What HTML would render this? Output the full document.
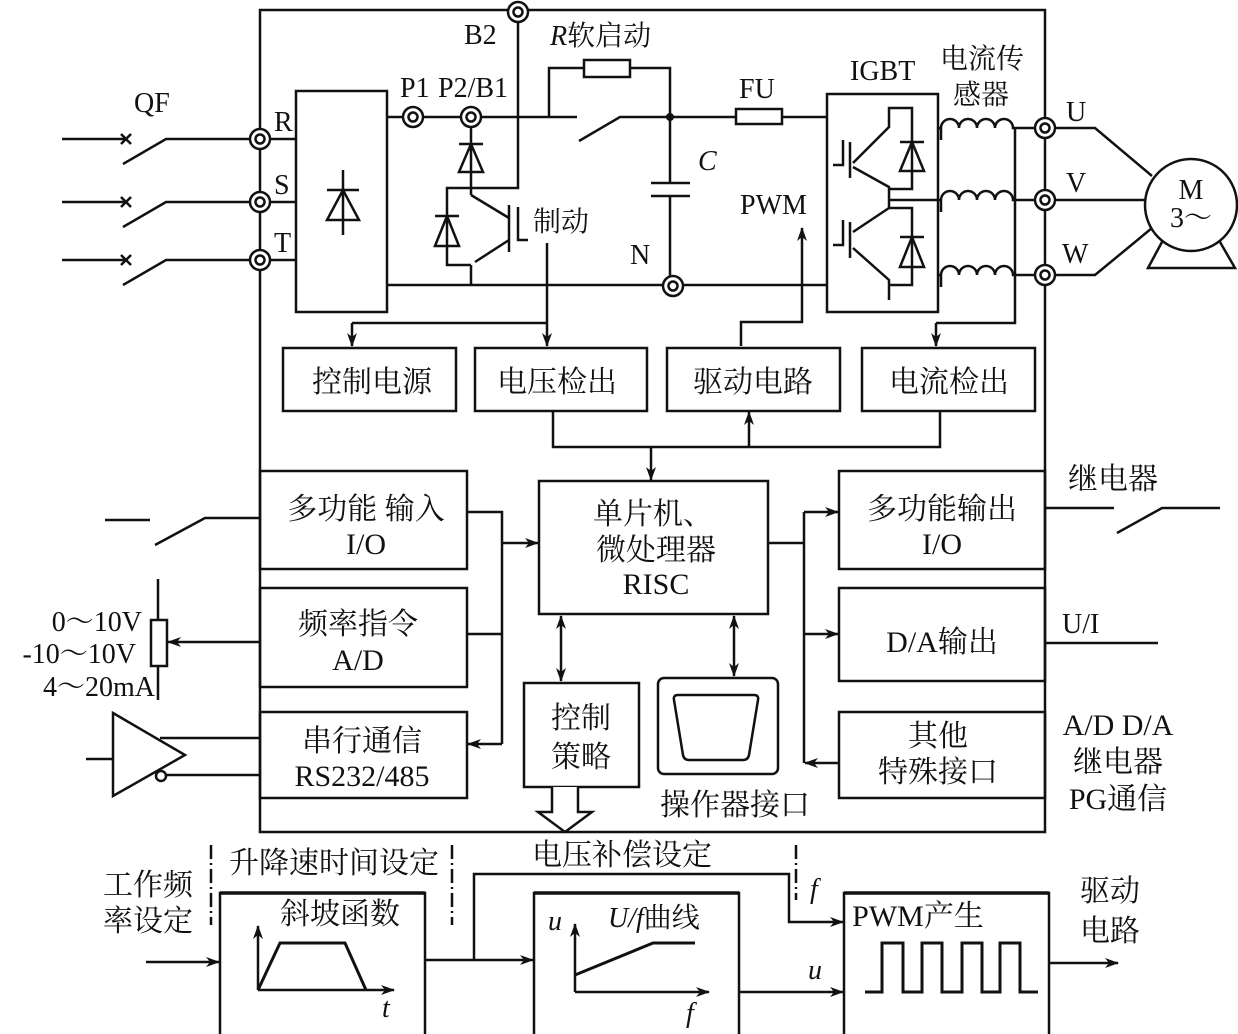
<!DOCTYPE html>
<html><head><meta charset="utf-8"><style>
html,body{margin:0;padding:0;background:#fff}
svg{display:block}
text{font-family:"Liberation Serif","Noto Serif CJK SC","Noto Sans CJK SC",serif;fill:#111}
.c{font-size:30px}
.l{font-size:28px}
</style></head><body>
<svg width="1238" height="1034" viewBox="0 0 1238 1034" xmlns="http://www.w3.org/2000/svg">
<defs>
<marker id="a" markerWidth="14" markerHeight="10" refX="13" refY="5" orient="auto" markerUnits="userSpaceOnUse"><path d="M0,0 L14,5 L0,10 L4,5 Z" fill="#111"/></marker>
<marker id="s" markerWidth="14" markerHeight="10" refX="1" refY="5" orient="auto" markerUnits="userSpaceOnUse"><path d="M14,0 L0,5 L14,10 L10,5 Z" fill="#111"/></marker>
</defs>
<g fill="none" stroke="#111" stroke-width="2.5">
<rect x="260" y="10" width="785" height="822"/>
<path d="M62,139 H126 M121,134 l10,10 M131,134 l-10,10 M123,164 L166,139 H250"/>
<path d="M62,202 H126 M121,197 l10,10 M131,197 l-10,10 M123,227 L166,202 H250"/>
<path d="M62,260 H126 M121,255 l10,10 M131,255 l-10,10 M123,285 L166,260 H250"/>
<path d="M270,139 H296 M270,202 H296 M270,260 H296"/>
<rect x="296" y="91" width="91" height="221"/>
<path d="M343,170 V235 M327,190 H359 M327,220 L343,190 L359,220 Z"/>
<path d="M387,117 H403 M423,117 H461 M481,117 H549 H577 M579,141 L620,117 H736 M782,117 H827"/>
<path d="M549,117 V68 H584 M630,68 H670 V117"/>
<rect x="584" y="60" width="46" height="17"/>
<rect x="736" y="109" width="46" height="15"/>
<path d="M518,22 V188 H447 V265 H471"/>
<path d="M471,127 V195 M459,144 H483 M459,172 L471,144 L483,172 Z"/>
<path d="M435,216 H459 M435,246 L447,216 L459,246 Z"/>
<path d="M471,195 L509,218 M509,205 V252 M518,207 V240 H528 M509,240 L475,262 M471,265 V285"/>
<path d="M387,285 H663 M683,285 H827"/>
<path d="M670,117 V183 M651,183 H690 M651,196 H690 M670,196 V276"/>
<rect x="827" y="94" width="111" height="218"/>
<path d="M843,140 V165 H833 M850,142 V178 M853,163 L889,127 V108 H912 V189 H889 M853,167 L889,187 V208 H912 V285 H889 M889,208 L853,232 M850,222 V258 M843,220 V245 H833 M853,248 L889,280 V300"/>
<path d="M900,142 H924 M900,171 L912,142 L924,171 Z M900,237 H924 M900,267 L912,237 L924,267 Z"/>
<path d="M889,200 H941"/>
<path d="M938,128 H941 M938,275 H941"/>
<path d="M941,140 V128 a9,9 0 0 1 18,0 a9,9 0 0 1 18,0 a9,9 0 0 1 18,0 a9,9 0 0 1 18,0 H1035"/>
<path d="M941,212 V200 a9,9 0 0 1 18,0 a9,9 0 0 1 18,0 a9,9 0 0 1 18,0 a9,9 0 0 1 18,0 H1035"/>
<path d="M941,287 V275 a9,9 0 0 1 18,0 a9,9 0 0 1 18,0 a9,9 0 0 1 18,0 a9,9 0 0 1 18,0 H1035"/>
<path d="M1015,128 V323 H936"/>
<path d="M936,323 V346" marker-end="url(#a)"/>
<path d="M1055,128 H1095 L1152,176 M1055,200 H1145 M1055,275 H1095 L1152,228"/>
<circle cx="1191" cy="205" r="46"/>
<path d="M1162,242 L1148,268 H1235 L1220,242"/>
</g>
<g fill="#fff" stroke="#111" stroke-width="2.5">
<circle cx="260" cy="139" r="10"/><circle cx="260" cy="139" r="4.5"/>
<circle cx="260" cy="202" r="10"/><circle cx="260" cy="202" r="4.5"/>
<circle cx="260" cy="260" r="10"/><circle cx="260" cy="260" r="4.5"/>
<circle cx="413" cy="117" r="10"/><circle cx="413" cy="117" r="4.5"/>
<circle cx="471" cy="117" r="10"/><circle cx="471" cy="117" r="4.5"/>
<circle cx="518" cy="12" r="10"/><circle cx="518" cy="12" r="4.5"/>
<circle cx="673" cy="286" r="10"/><circle cx="673" cy="286" r="4.5"/>
<circle cx="1045" cy="128" r="10"/><circle cx="1045" cy="128" r="4.5"/>
<circle cx="1045" cy="200" r="10"/><circle cx="1045" cy="200" r="4.5"/>
<circle cx="1045" cy="275" r="10"/><circle cx="1045" cy="275" r="4.5"/>
</g>
<circle cx="670" cy="117" r="4" fill="#111"/>
<g fill="none" stroke="#111" stroke-width="2.5">
<path d="M352,323 H547"/>
<path d="M352,323 V346" marker-end="url(#a)"/>
<path d="M547,243 V346" marker-end="url(#a)"/>
<path d="M741,346 V322 H802 V228" marker-end="url(#a)"/>
<rect x="283" y="348" width="173" height="63"/>
<rect x="475" y="348" width="172" height="63"/>
<rect x="667" y="348" width="173" height="63"/>
<rect x="862" y="348" width="173" height="63"/>
<path d="M553,411 V447 H940 V411"/>
<path d="M749,447 V412" marker-end="url(#a)"/>
<path d="M651,447 V480" marker-end="url(#a)"/>
<rect x="539" y="481" width="229" height="133"/>
<rect x="260" y="471" width="207" height="98"/>
<rect x="260" y="588" width="207" height="99"/>
<rect x="260" y="712" width="207" height="86"/>
<path d="M467,512 H502 V744"/>
<path d="M502,543 H538" marker-end="url(#a)"/>
<path d="M467,634 H502"/>
<path d="M502,744 H468" marker-end="url(#a)"/>
<rect x="839" y="471" width="206" height="98"/>
<rect x="839" y="588" width="206" height="93"/>
<rect x="839" y="712" width="206" height="86"/>
<path d="M768,543 H804 M804,512 V763"/>
<path d="M804,512 H838" marker-end="url(#a)"/>
<path d="M804,634 H838" marker-end="url(#a)"/>
<path d="M839,763 H805" marker-end="url(#a)"/>
<path d="M1045,508 H1114 M1117,533 L1162,508 H1220 M1045,643 H1158"/>
<path d="M105,520 H150 M155,545 L205,518 H260"/>
<path d="M158,579 V620 M158,666 V700"/>
<rect x="151" y="620" width="16" height="46"/>
<path d="M260,642 H168" marker-end="url(#a)"/>
<path d="M86,759 H113 M113,713 L185,755 L113,796 Z M160,738 H260 M166,775 H260"/>
<circle cx="161" cy="776" r="5" fill="#fff"/>
<rect x="524" y="683" width="115" height="104"/>
<path d="M561,616 V681" marker-start="url(#s)" marker-end="url(#a)"/>
<path d="M734,616 V676" marker-start="url(#s)" marker-end="url(#a)"/>
<rect x="658" y="678" width="120" height="96" rx="6"/>
<path d="M678,695 H754 Q759,695 758,700 L749,755 Q748,760 743,760 H689 Q684,760 683,755 L674,700 Q673,695 678,695 Z"/>
<path d="M552,787 V812 H538 L565,832 L592,812 H578 V787" fill="#fff"/>
<rect x="220" y="893" width="205" height="145"/>
<rect x="534" y="893" width="205" height="145"/>
<rect x="844" y="893" width="205" height="145"/>
<path d="M220,893 H425 M534,893 H739 M844,893 H1049" stroke-width="3.5"/>
<path d="M146,962 H219" marker-end="url(#a)"/>
<path d="M425,960 H533" marker-end="url(#a)"/>
<path d="M474,960 V874 H789 V922 H843" marker-end="url(#a)"/>
<path d="M739,992 H843" marker-end="url(#a)"/>
<path d="M1049,963 H1118" marker-end="url(#a)"/>
<path d="M211,845 V925 M452,845 V925 M796,845 V900" stroke-dasharray="14,4,2,4"/>
<path d="M258,990 V926" marker-end="url(#a)"/>
<path d="M258,990 H394" marker-end="url(#a)"/>
<path d="M258,990 L280,943 H345 L366,990" stroke-width="3"/>
<path d="M575,992 V924" marker-end="url(#a)"/>
<path d="M575,992 H709" marker-end="url(#a)"/>
<path d="M575,975 L653,943 H695" stroke-width="3"/>
<path d="M865,992 H882 V943 H903 V992 H922 V943 H942 V992 H962 V943 H982 V992 H1000 V943 H1020 V992 H1038" stroke-width="3"/>
</g>
<g class="l">
<text x="134" y="112">QF</text>
<text x="274" y="131">R</text>
<text x="274" y="194">S</text>
<text x="274" y="252">T</text>
<text x="464" y="44">B2</text>
<text x="400" y="97">P1</text>
<text x="438" y="97">P2/B1</text>
<text x="550" y="45"><tspan font-style="italic">R</tspan>软启动</text>
<text x="739" y="98">FU</text>
<text x="850" y="80">IGBT</text>
<text x="940" y="68">电流传</text>
<text x="953" y="104">感器</text>
<text x="698" y="170" font-style="italic">C</text>
<text x="740" y="214">PWM</text>
<text x="630" y="264">N</text>
<text x="533" y="231">制动</text>
<text x="1066" y="121">U</text>
<text x="1066" y="192">V</text>
<text x="1062" y="263">W</text>
<text x="1191" y="199" text-anchor="middle">M</text>
<text x="1191" y="227" text-anchor="middle">3～</text>
</g>
<g class="c" text-anchor="middle">
<text x="372" y="392">控制电源</text>
<text x="557" y="392">电压检出</text>
<text x="753" y="392">驱动电路</text>
<text x="949" y="392">电流检出</text>
<text x="653" y="524">单片机、</text>
<text x="656" y="560">微处理器</text>
<text x="656" y="594">RISC</text>
<text x="366" y="519">多功能 输入</text>
<text x="366" y="554">I/O</text>
<text x="358" y="634">频率指令</text>
<text x="358" y="670">A/D</text>
<text x="362" y="751">串行通信</text>
<text x="362" y="786">RS232/485</text>
<text x="942" y="519">多功能输出</text>
<text x="942" y="554">I/O</text>
<text x="942" y="652">D/A输出</text>
<text x="938" y="746">其他</text>
<text x="938" y="782">特殊接口</text>
<text x="581" y="728">控制</text>
<text x="581" y="767">策略</text>
<text x="735" y="815">操作器接口</text>
<text x="1113" y="489">继电器</text>
<text x="1118" y="735">A/D D/A</text>
<text x="1118" y="772">继电器</text>
<text x="1118" y="809">PG通信</text>
<text x="148" y="895">工作频</text>
<text x="148" y="931">率设定</text>
<text x="334" y="873">升降速时间设定</text>
<text x="622" y="865">电压补偿设定</text>
<text x="340" y="924">斜坡函数</text>
<text x="918" y="926">PWM产生</text>
<text x="1110" y="901">驱动</text>
<text x="1110" y="941">电路</text>
</g>
<g class="l">
<text x="1062" y="633">U/I</text>
<text x="142" y="631" text-anchor="end">0～10V</text>
<text x="136" y="663" text-anchor="end">-10～10V</text>
<text x="155" y="696" text-anchor="end">4～20mA</text>
<text x="382" y="1017" font-style="italic">t</text>
<text x="548" y="930" font-style="italic">u</text>
<text x="608" y="927"><tspan font-style="italic">U/f</tspan>曲线</text>
<text x="686" y="1022" font-style="italic">f</text>
<text x="808" y="979" font-style="italic">u</text>
<text x="810" y="898" font-style="italic">f</text>
</g>
</svg>
</body></html>
